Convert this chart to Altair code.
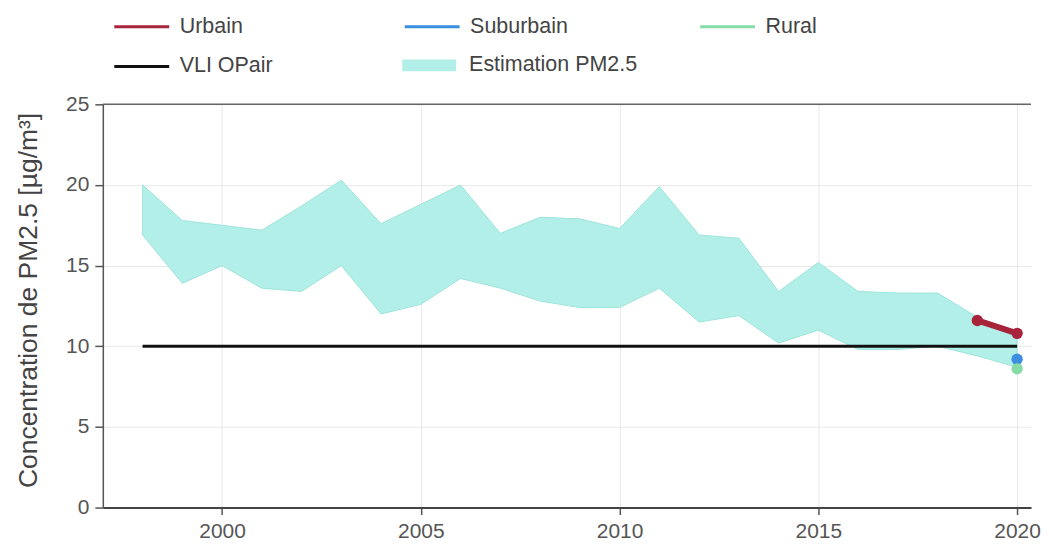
import altair as alt
import pandas as pd

# ---- data ----
years = list(range(1998, 2021))
pm25_lower = [16.9, 13.9, 15.0, 13.6, 13.4, 15.0, 12.0, 12.6, 14.2, 13.6, 12.8, 12.4,
              12.4, 13.6, 11.5, 11.9, 10.2, 11.0, 9.8, 9.8, 10.0, 9.4, 8.7]
pm25_upper = [20.0, 17.8, 17.5, 17.2, 18.7, 20.3, 17.6, 18.8, 20.0, 17.0, 18.0, 17.9,
              17.3, 19.9, 16.9, 16.7, 13.4, 15.2, 13.4, 13.3, 13.3, 11.8, 10.5]

station_series = ["Urbain", "Urbain", "Suburbain", "Rural"]
station_years = [2019, 2020, 2020, 2020]
station_values = [11.6, 10.8, 9.2, 8.6]

vli_years = [1998, 2020]
vli_values = [10, 10]

series_names = ["Urbain", "Suburbain", "Rural", "VLI OPair"]
series_colors = ["#a8243a", "#3b8fde", "#86dba6", "#111111"]
area_name = "Estimation PM2.5"
area_color = "#b2efe8"

x_ticks = [2000, 2005, 2010, 2015, 2020]
y_ticks = [0, 5, 10, 15, 20, 25]
y_title = "Concentration de PM2.5 [µg/m³]"

# ---- tables ----
area_df = pd.DataFrame({"year": years, "lower": pm25_lower, "upper": pm25_upper,
                        "serie": [area_name] * len(years)})
station_df = pd.DataFrame({"year": station_years, "value": station_values,
                           "serie": station_series})
vli_df = pd.DataFrame({"year": vli_years, "value": vli_values,
                       "serie": ["VLI OPair"] * len(vli_years)})
top_df = pd.DataFrame({"value": [25]})

FONT = "Liberation Sans"

x_scale = alt.Scale(domain=[1997, 2020.35], nice=False, zero=False)
y_scale = alt.Scale(domain=[0, 25], nice=False)

x_axis = alt.Axis(values=x_ticks, format="d", title=None, grid=True,
                  gridColor="#e8e8e8", domainColor="#444444", domainWidth=2,
                  tickColor="#555555", tickSize=7, tickWidth=1.5,
                  labelFontSize=21, labelColor="#555555", labelPadding=6,
                  labelFont=FONT)
y_axis = alt.Axis(values=y_ticks, title=y_title, grid=True,
                  gridColor="#e8e8e8", domainColor="#555555", domainWidth=1.5,
                  tickColor="#555555", tickSize=8, tickWidth=1.5,
                  labelFontSize=21, labelColor="#555555", labelPadding=6,
                  labelFont=FONT, titleFont=FONT, titleFontSize=26.5,
                  titleFontWeight="normal", titleColor="#444444",
                  titlePadding=23, titleY=196)

X = alt.X("year:Q", scale=x_scale, axis=x_axis)

color = alt.Color(
    "serie:N",
    scale=alt.Scale(domain=series_names, range=series_colors),
    legend=alt.Legend(
        orient="none", legendX=10, legendY=-107, direction="horizontal",
        columns=3, title=None, symbolType="stroke", symbolSize=3025,
        symbolStrokeWidth=3, labelFontSize=21.5, labelFont=FONT,
        labelColor="#444444", labelOffset=9, columnPadding=125,
        rowPadding=0, labelLimit=300,
    ),
)

fill = alt.Fill(
    "serie:N",
    scale=alt.Scale(domain=[area_name], range=[area_color]),
    legend=alt.Legend(
        orient="none", legendX=300, legendY=-66, title=None,
        symbolType="M-1,-0.22L1,-0.22L1,0.22L-1,0.22Z", symbolSize=2916,
        symbolStrokeWidth=0, symbolOpacity=1, labelFontSize=21.5, labelFont=FONT,
        labelColor="#444444", labelOffset=13, labelLimit=300,
    ),
)

area = alt.Chart(area_df).mark_area(stroke="#9fe4dc", strokeWidth=1, opacity=1).encode(
    x=X,
    y=alt.Y("lower:Q", scale=y_scale, axis=y_axis),
    y2="upper:Q",
    fill=fill,
)

top_rule = alt.Chart(top_df).mark_rule(color="#666666", strokeWidth=1.5).encode(
    y=alt.Y("value:Q", scale=y_scale, axis=y_axis)
)

vli = alt.Chart(vli_df).mark_line(strokeWidth=3).encode(
    x=X, y=alt.Y("value:Q", scale=y_scale, axis=y_axis), color=color
)

urb_line = alt.Chart(station_df).transform_filter(
    alt.datum.serie == "Urbain"
).mark_line(strokeWidth=6).encode(
    x=X, y=alt.Y("value:Q", scale=y_scale, axis=y_axis), color=color
)

points = alt.Chart(station_df).mark_circle(size=130, opacity=1).encode(
    x=X, y=alt.Y("value:Q", scale=y_scale, axis=y_axis), color=color
)

chart = alt.layer(area, top_rule, vli, urb_line, points).properties(
    width=930, height=404,
    autosize=alt.AutoSizeParams(type="none"),
    padding={"left": 95, "top": 96, "right": 10, "bottom": 38},
).configure_view(stroke=None)

chart.save("out.html", embed_options={"renderer": "svg", "actions": False})
